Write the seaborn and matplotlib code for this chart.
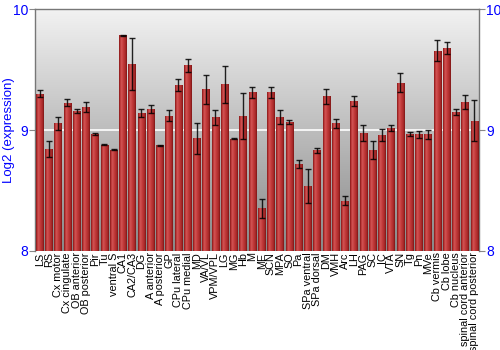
import numpy as np
import pandas as pd
import matplotlib
matplotlib.use("Agg")
import matplotlib.pyplot as plt
import seaborn as sns
from matplotlib.colors import LinearSegmentedColormap

regions = ["LS", "RS", "Cx motor", "Cx cingulate", "OB anterior", "OB posterior", "Pir", "Tu",
           "ventral S", "CA1", "CA2/CA3", "DG", "A anterior", "A posterior", "GP", "CPu lateral",
           "CPu medial", "MD", "VA/VL", "VPM/VPL", "LG", "MG", "Hb", "M", "ME", "SCN", "MPA", "SO",
           "Pa", "SPa ventral", "SPa dorsal", "DM", "VMH", "Arc", "LH", "PAG", "SC", "IC", "VTA",
           "SN", "Tg", "Pn", "MVe", "Cb vermis", "Cb lobe", "Cb nucleus", "spinal cord anterior",
           "spinal cord posterior"]
expression = [9.30, 8.843, 9.055, 9.226, 9.157, 9.19, 8.967, 8.879,
              8.835, 9.785, 9.543, 9.14, 9.176, 8.876, 9.118, 9.369,
              9.535, 8.931, 9.336, 9.105, 9.377, 8.928, 9.118, 9.311, 8.353, 9.311, 9.105, 9.063,
              8.722, 8.537, 8.832, 9.278, 9.055, 8.416, 9.237, 8.975, 8.837, 8.959, 9.017,
              9.391, 8.967, 8.964, 8.964, 9.656, 9.678, 9.151, 9.234,
              9.076]
error = [0.027, 0.07, 0.055, 0.027, 0.017, 0.044, 0.005, 0.004,
         0.004, 0.004, 0.215, 0.03, 0.033, 0.004, 0.044, 0.05,
         0.055, 0.128, 0.12, 0.06, 0.153, 0.004, 0.19, 0.047, 0.08, 0.047, 0.058, 0.017,
         0.033, 0.14, 0.022, 0.06, 0.036, 0.037, 0.041, 0.066, 0.076, 0.052, 0.025,
         0.08, 0.018, 0.028, 0.037, 0.088, 0.048, 0.023, 0.058,
         0.17]
y_ticks = [8, 9, 10]

df = pd.DataFrame({"region": regions, "expression": expression})

sns.set_style("white")
plt.rcParams['font.family'] = ['Liberation Sans', 'DejaVu Sans']

fig = plt.figure(figsize=(5, 3.5), dpi=100)
ax = fig.add_axes([0.07, 0.283, 0.888, 0.691])

# background gradient
bg = LinearSegmentedColormap.from_list("bg", ["#888888", "#f2f2f2"])
grad = np.linspace(0, 1, 256).reshape(-1, 1)
ax.imshow(grad, cmap=bg, aspect="auto", extent=[-0.5, len(regions) - 0.5, 8, 10],
          origin="lower", zorder=0)

sns.barplot(data=df, x="region", y="expression", color="#c03535", width=0.82,
            ax=ax, zorder=2, linewidth=0)

ax.set_ylim(8, 10)
ax.set_xlim(-0.5, len(regions) - 0.5)
ax.axhline(9, color="white", lw=1.2, zorder=1)

# gradient fill on bars
barcm = LinearSegmentedColormap.from_list(
    "bar", [(0, "#7e1515"), (0.12, "#b53030"), (0.3, "#d25555"), (0.55, "#c23a3a"),
            (0.85, "#a52727"), (1, "#7a1414")])
hgrad = np.linspace(0, 1, 64).reshape(1, -1)
for p in ax.patches:
    x0, w = p.get_x(), p.get_width()
    im = ax.imshow(hgrad, cmap=barcm, aspect="auto",
                   extent=[x0, x0 + w, 8, p.get_y() + p.get_height()], zorder=3)
    im.set_clip_path(p)
ax.set_xlim(-0.5, len(regions) - 0.5)
ax.set_ylim(8, 10)

xpos = np.arange(len(regions))
ax.errorbar(xpos, expression, yerr=error, fmt="none", ecolor="black", elinewidth=1.0,
            capsize=2.2, capthick=1.0, alpha=0.85, zorder=4)

ax.set_yticks(y_ticks)
ax.set_yticklabels([str(t) for t in y_ticks])
ax.tick_params(axis="y", colors="#888888", labelcolor="blue", labelsize=10, length=4,
               direction="out", left=True, right=True, labelleft=True, labelright=True, pad=1)
ax.tick_params(axis="x", labelsize=7.8, length=0, pad=1, labelcolor="black")
plt.setp(ax.get_xticklabels(), rotation=90)
ax.set_xlabel("")
ax.set_ylabel("Log2 (expression)", color="blue", fontsize=9.5)
ax.yaxis.set_label_coords(-0.046, 0.5)

for s in ["left", "right", "top"]:
    ax.spines[s].set_visible(True)
    ax.spines[s].set_color("#777777")
    ax.spines[s].set_linewidth(1)
ax.spines["bottom"].set_visible(False)

fig.savefig("out.png", dpi=100)
